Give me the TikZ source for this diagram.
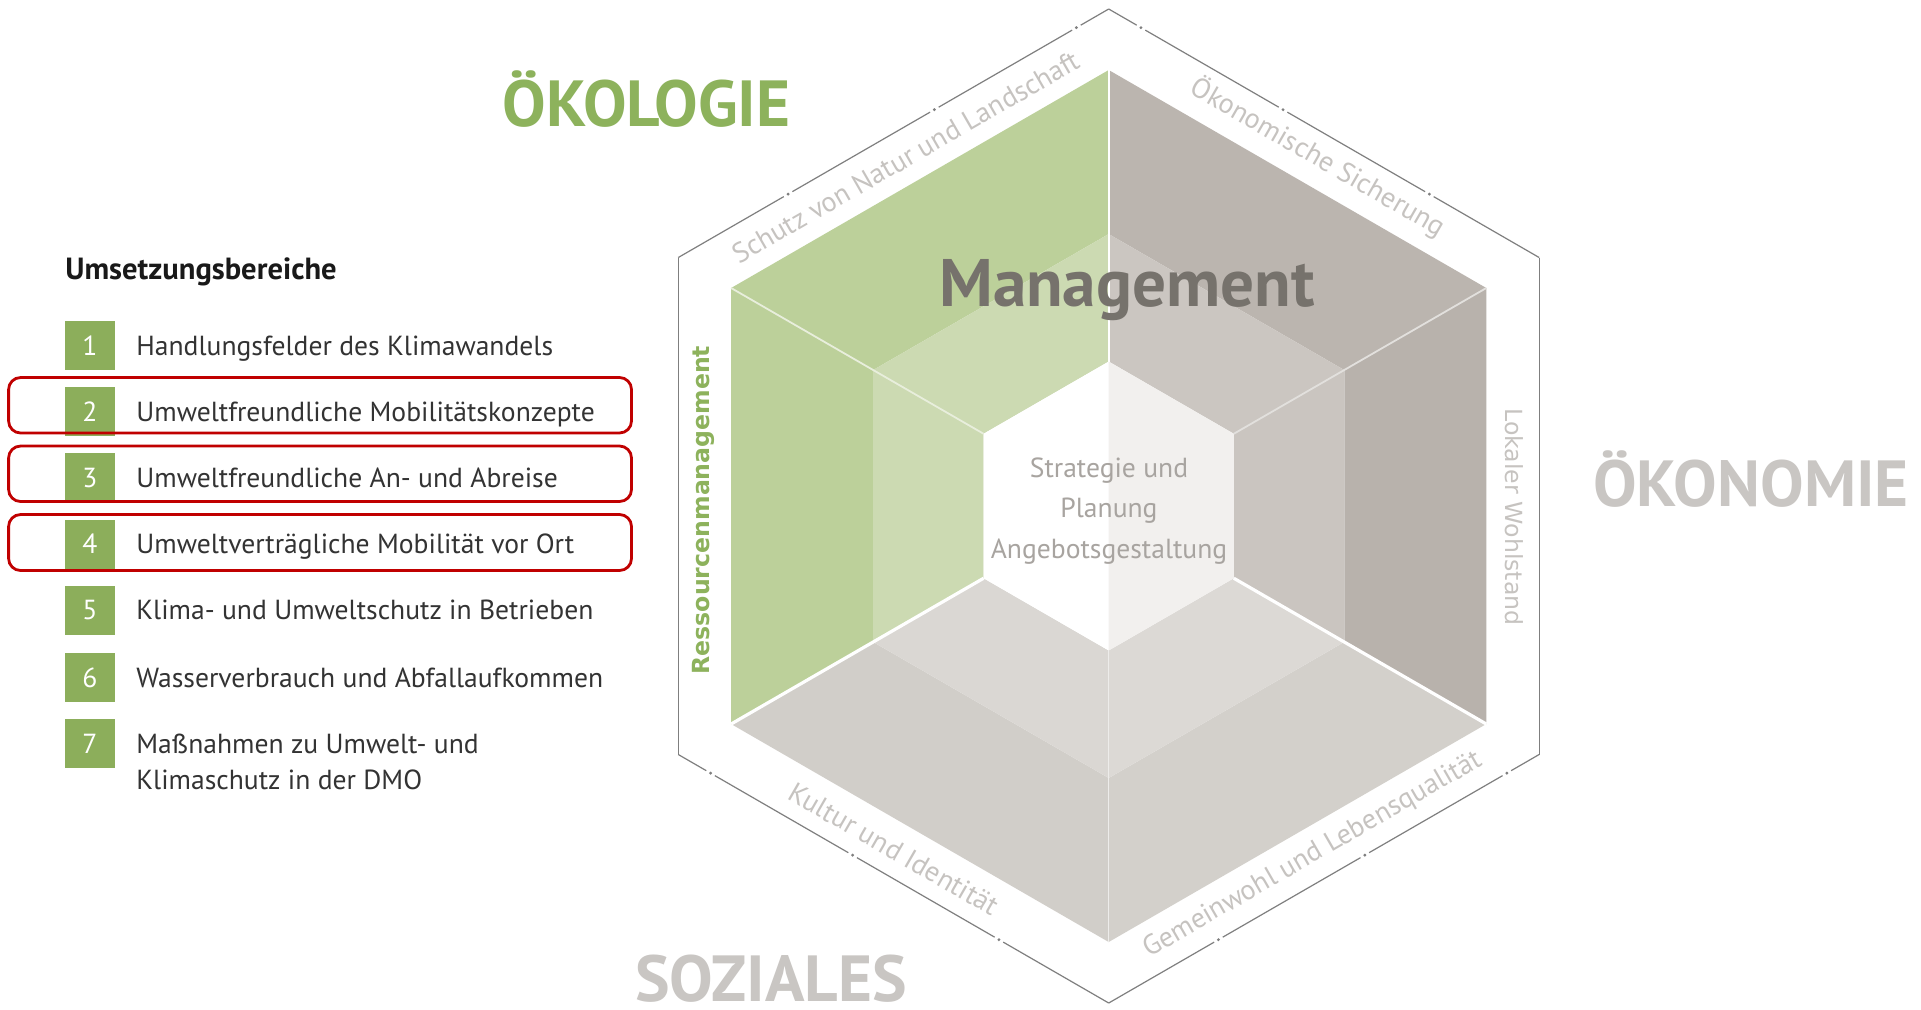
\documentclass[tikz,border=0pt]{standalone}
\usepackage{fontspec}
\setmainfont{PT Sans}
\newfontfamily\widefont{DejaVu Sans}
\usetikzlibrary{calc}

\definecolor{numgreen}{HTML}{8CAE5B}
\definecolor{txtdark}{HTML}{333333}
\definecolor{boxred}{HTML}{C00000}
\definecolor{okogreen}{HTML}{8DB25C}
\definecolor{biggray}{HTML}{C9C6C3}
\definecolor{mgmtgray}{HTML}{76726C}
\definecolor{centergray}{HTML}{A8A4A0}
\definecolor{lblgray}{HTML}{C6C3C0}
\definecolor{rimgray}{HTML}{7F7F7F}
% shading of the hexagon bands
\definecolor{gOut}{HTML}{BCD09A}
\definecolor{gIn}{HTML}{CCDAB2}
\definecolor{urOut}{HTML}{BBB5AF}
\definecolor{urIn}{HTML}{CBC6C1}
\definecolor{rOut}{HTML}{B8B2AC}
\definecolor{rIn}{HTML}{CAC5C0}
\definecolor{lrOut}{HTML}{D3D0CB}
\definecolor{lrIn}{HTML}{DCD9D5}
\definecolor{llOut}{HTML}{D1CEC9}
\definecolor{llIn}{HTML}{DAD7D3}
\definecolor{coreR}{HTML}{F2F0EE}

\tikzset{
  numbox/.style={fill=numgreen, minimum width=25pt, minimum height=24.5pt,
    inner sep=0pt, text=white, font=\fontsize{13.8}{16}\selectfont},
  listtxt/.style={anchor=base west, inner sep=0pt, text=txtdark,
    font=\fontsize{13.8}{16}\selectfont},
  redbox/.style={draw=boxred, line width=1.4pt, rounded corners=6pt},
  biglbl/.style={anchor=base, inner sep=0pt, font=\bfseries\fontsize{32.6}{34}\selectfont},
  edgelbl/.style={inner sep=0pt, text=lblgray, font=\fontsize{14}{16}\selectfont},
  corelbl/.style={anchor=base, inner sep=0pt, text=centergray, font=\fontsize{13.8}{16}\selectfont},
}

\begin{document}
\begin{tikzpicture}[x=0.5pt,y=-0.5pt]
\useasboundingbox (0,0) rectangle (1921,1009);
\fill[white] (0,0) rectangle (1921,1009);

% ---------- hexagon geometry ----------
\coordinate (C) at (1108.7,506);
\foreach \a in {30,90,150,210,270,330}{
  \coordinate (O\a) at ($(C)+(\a:497)$);
  \coordinate (A\a) at ($(C)+(\a:436)$);
  \coordinate (M\a) at ($(C)+(\a:272)$);
  \coordinate (W\a) at ($(C)+(\a:144.5)$);
}

% ecology sector (upper left and left side)
\fill[gOut] (A270) -- (A210) -- (M210) -- (M270) -- cycle;
\fill[gIn]  (M270) -- (M210) -- (W210) -- (W270) -- cycle;
\fill[gOut] (A210) -- (A150) -- (M150) -- (M210) -- cycle;
\fill[gIn]  (M210) -- (M150) -- (W150) -- (W210) -- cycle;
% economy sector (upper right and right side)
\fill[urOut] (A270) -- (A330) -- (M330) -- (M270) -- cycle;
\fill[urIn]  (M270) -- (M330) -- (W330) -- (W270) -- cycle;
\fill[rOut]  (A330) -- (A30) -- (M30) -- (M330) -- cycle;
\fill[rIn]   (M330) -- (M30) -- (W30) -- (W330) -- cycle;
% social sector (lower right and lower left side)
\fill[lrOut] (A30) -- (A90) -- (M90) -- (M30) -- cycle;
\fill[lrIn]  (M30) -- (M90) -- (W90) -- (W30) -- cycle;
\fill[llOut] (A90) -- (A150) -- (M150) -- (M90) -- cycle;
\fill[llIn]  (M90) -- (M150) -- (W150) -- (W90) -- cycle;
% core
\fill[white] (W270) -- (W210) -- (W150) -- (W90) -- cycle;
\fill[coreR] (W270) -- (W330) -- (W30) -- (W90) -- cycle;

% seams between the fields
\draw[white, line width=1pt] (A270) -- (W270);
\draw[white, line width=1.6pt] (A150) -- (W150);
\draw[white, line width=1.6pt] (A30) -- (W30);
\draw[white!55!gIn, line width=0.9pt] (A210) -- (W210);
\draw[white!45!urIn, line width=0.9pt] (A330) -- (W330);
\draw[white!60!lrOut, line width=0.6pt] (A90) -- (W90);

% outer rim with small breaks
\draw[rimgray, line width=0.6pt] (O210) -- (O150);
\draw[rimgray, line width=0.6pt] (O330) -- (O30);
\foreach \s/\e in {O270/O210, O270/O330, O150/O90, O30/O90}{
  \draw[rimgray, line width=0.6pt]
    (\s) -- ($(\s)!0.065!(\e)$)
    ($(\s)!0.085!(\e)$) -- ($(\s)!0.395!(\e)$)
    ($(\s)!0.415!(\e)$) -- ($(\s)!0.735!(\e)$)
    ($(\s)!0.755!(\e)$) -- (\e);
  \fill[rimgray] ($(\s)!0.075!(\e)$) circle (1.6);
  \fill[rimgray] ($(\s)!0.405!(\e)$) circle (1.6);
  \fill[rimgray] ($(\s)!0.745!(\e)$) circle (1.6);
}

% ---------- labels of the hexagon ----------
\node[edgelbl, rotate=30]  (lNatur) at (906,157) {Schutz von Natur und Landschaft};
\node[edgelbl, rotate=-30] (lSich)  at (1318,157) {Ökonomische Sicherung};
\node[edgelbl, rotate=30]  (lGem)   at (1313,855) {Gemeinwohl und Lebensqualität};
\node[edgelbl, rotate=-30] (lKult)  at (894,849) {Kultur und Identität};
\node[inner sep=0pt, rotate=-90, text=lblgray, font=\widefont\fontsize{11.8}{14}\selectfont]
  (lWohl) at (1514,517) {Lokaler Wohlstand};
\node[inner sep=0pt, rotate=90, text=okogreen, font=\widefont\bfseries\fontsize{11.8}{14}\selectfont]
  (lRes) at (703,510) {Ressourcenmanagement};

\node[biglbl, text=mgmtgray, font=\bfseries\fontsize{33.6}{35}\selectfont] (mgmt) at (1127,306) {Management};
\node[corelbl] (c1) at (1109,477) {Strategie und};
\node[corelbl] (c2) at (1109,517) {Planung};
\node[corelbl] (c3) at (1109,558) {Angebotsgestaltung};

\node[biglbl, text=okogreen] (oeko) at (646.5,126) {ÖKOLOGIE};
\node[biglbl, text=biggray] (oekon) at (1751,506) {ÖKONOMIE};
\node[biglbl, text=biggray] (soz) at (771,1001) {SOZIALES};

% ---------- list of fields of action ----------
\node[anchor=base west, inner sep=0pt, text=black!90,
      font=\bfseries\fontsize{15.3}{17}\selectfont] (head) at (65,279) {Umsetzungsbereiche};

\foreach \i/\y/\t in {
  1/345.5/Handlungsfelder des Klimawandels,
  2/411.6/Umweltfreundliche Mobilitätskonzepte,
  3/477.8/Umweltfreundliche An- und Abreise,
  4/544/Umweltverträgliche Mobilität vor Ort,
  5/610/Klima- und Umweltschutz in Betrieben,
  6/677.5/Wasserverbrauch und Abfallaufkommen,
  7/743.6/Maßnahmen zu Umwelt- und}{
  \node[numbox] (n\i) at (90,\y) {\i};
  \node[listtxt] (t\i) at (136,\y+9.5) {\t};
}
\node[listtxt] (t7b) at (136,789.9) {Klimaschutz in der DMO};

% highlighted rows
\draw[redbox] (8.6,377.5) rectangle (631.5,433);
\draw[redbox] (8.6,446) rectangle (631.5,501.5);
\draw[redbox] (8.6,514.5) rectangle (631.5,570.5);

\end{tikzpicture}
\end{document}
